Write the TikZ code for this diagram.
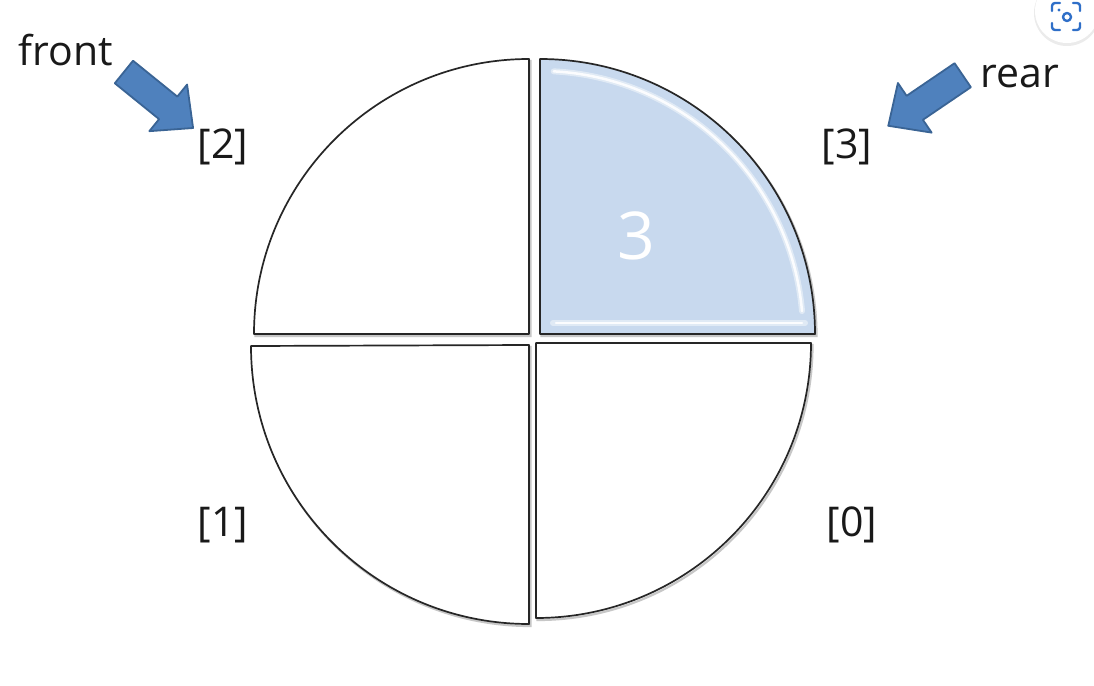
\documentclass[tikz,border=0pt]{standalone}
\usepackage{fontspec}
\setmainfont{Open Sans}
\begin{document}
\begin{tikzpicture}[x=1pt,y=-1pt,
  quarter/.style={draw=black!85,line width=1.7pt,fill=white,line join=round},
  qshadow/.style={draw=black!22,line width=2.2pt},
  lbl/.style={font=\fontsize{41}{48}\selectfont,text=black!90,inner sep=0pt},
  blockarrow/.style={fill=arrowblue,draw=arrowdark,line width=1.8pt,line join=round},
  glosswide/.style={draw=white,line width=6pt,line cap=round,opacity=0.45},
  gloss/.style={draw=white,line width=2.5pt,line cap=round,opacity=0.9}]
\definecolor{arrowblue}{HTML}{4F81BD}
\definecolor{arrowdark}{HTML}{3A6495}
\definecolor{cellblue}{HTML}{C8D9EE}
\definecolor{iconblue}{HTML}{2F6FC8}
\useasboundingbox (0,0) rectangle (1094,685);
\fill[white] (0,0) rectangle (1094,685);

% shadows
\draw[qshadow,shift={(1.5,2)}] (254,334) arc[start angle=180,end angle=90,radius=275pt] -- (529,334) -- cycle;
\draw[qshadow,shift={(1.5,2)}] (540,59) arc[start angle=90,end angle=0,radius=275pt] -- (540,334) -- cycle;
\draw[qshadow,shift={(1.5,2)}] (529,624) arc[start angle=270,end angle=180,radius=278pt] -- (529,345) -- cycle;
\draw[qshadow,shift={(1.5,2)}] (811,343) arc[start angle=0,end angle=-90,radius=275pt] -- (536,343) -- cycle;

% quarters
\draw[quarter] (529,334) -- (254,334) arc[start angle=180,end angle=90,radius=275pt] -- cycle;
\draw[quarter,fill=cellblue] (540,334) -- (540,59) arc[start angle=90,end angle=0,radius=275pt] -- cycle;
\draw[quarter] (529,345) -- (529,624) arc[start angle=270,end angle=180,radius=278pt] -- cycle;
\draw[quarter] (536,343) -- (811,343) arc[start angle=0,end angle=-90,radius=275pt] -- cycle;

% gloss on shaded cell
\path (540,334) ++(87:263pt) coordinate (g1);
\draw[glosswide] (553,323) -- (805,323);
\draw[glosswide] (g1) arc[start angle=87,end angle=5,radius=263pt];
\draw[gloss] (556,323) -- (802,323);
\draw[gloss] (g1) arc[start angle=87,end angle=5,radius=263pt];

\node[lbl,text=white,font=\fontsize{66}{70}\selectfont] (val) at (636,236) {3};

% index labels
\node[lbl] (i2) at (223,147) {[2]};
\node[lbl] (i3) at (847,147) {[3]};
\node[lbl] (i1) at (223,525) {[1]};
\node[lbl] (i0) at (852,525) {[0]};
\node[lbl,anchor=base] (front) at (66,65) {front};
\node[lbl,anchor=base] (rear) at (1020,87) {rear};

% block arrows
\begin{scope}[shift={(158.5,100)},rotate=-39]
\draw[blockarrow] (-44.5,-14.5) -- (12.5,-14.5) -- (12.5,-30) -- (44.5,0) -- (12.5,30) -- (12.5,14.5) -- (-44.5,14.5) -- cycle;
\end{scope}
\begin{scope}[shift={(925.5,100.5)},rotate=214.2]
\draw[blockarrow] (-45,-14.5) -- (13,-14.5) -- (13,-30) -- (45,0) -- (13,30) -- (13,14.5) -- (-45,14.5) -- cycle;
\end{scope}

% lens icon (screenshot overlay)
\fill[black!8] (1067,13) circle[radius=33pt];
\fill[white] (1067,11) circle[radius=32pt];
\begin{scope}[draw=iconblue,line width=2.4pt,line cap=round,line join=round]
\draw (1052,11) -- (1052,6) arc[start angle=180,end angle=90,radius=3pt] -- (1060,3);
\draw (1073,3) -- (1077,3) arc[start angle=90,end angle=0,radius=3pt] -- (1080,11);
\draw (1080,23) -- (1080,27) arc[start angle=0,end angle=-90,radius=3pt] -- (1073,30);
\draw (1060,30) -- (1055,30) arc[start angle=270,end angle=180,radius=3pt] -- (1052,23);
\draw (1067,17) circle[radius=4pt];
\end{scope}
\fill[iconblue] (1059,10) circle[radius=1.6pt];
\end{tikzpicture}
\end{document}
